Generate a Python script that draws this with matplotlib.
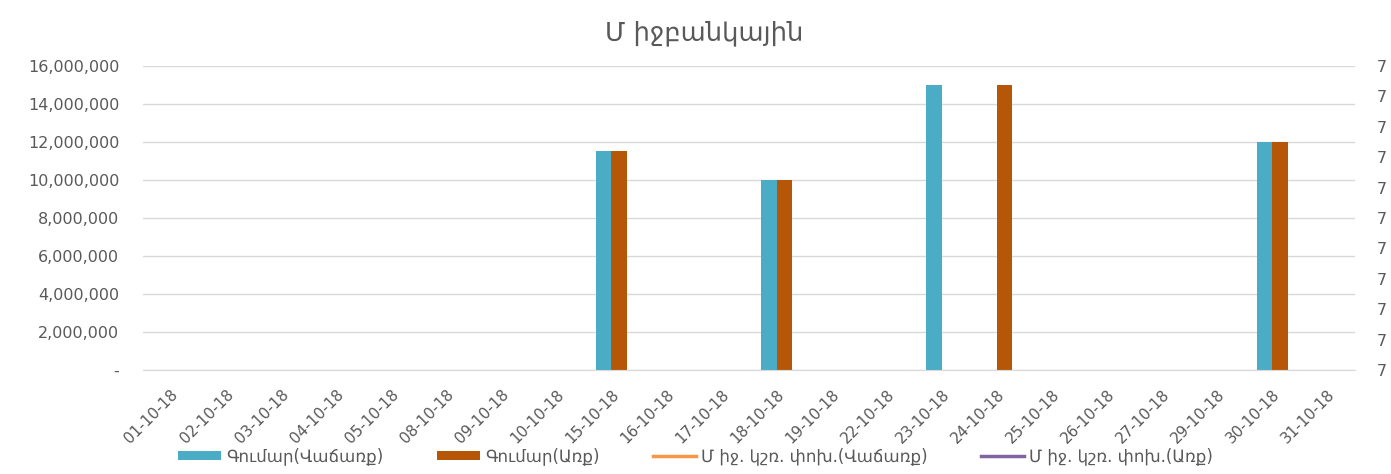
import matplotlib.pyplot as plt
import numpy as np

plt.rcParams['font.family'] = ['DejaVu Sans']

dates = ['01-10-18', '02-10-18', '03-10-18', '04-10-18', '05-10-18', '08-10-18',
         '09-10-18', '10-10-18', '15-10-18', '16-10-18', '17-10-18', '18-10-18',
         '19-10-18', '22-10-18', '23-10-18', '24-10-18', '25-10-18', '26-10-18',
         '27-10-18', '29-10-18', '30-10-18', '31-10-18']
sell_amount = [0, 0, 0, 0, 0, 0, 0, 0, 11500000, 0, 0, 10000000,
               0, 0, 15000000, 0, 0, 0, 0, 0, 12000000, 0]
buy_amount = [0, 0, 0, 0, 0, 0, 0, 0, 11500000, 0, 0, 10000000,
              0, 0, 0, 15000000, 0, 0, 0, 0, 12000000, 0]
# weighted avg rate series: no visible values in the chart
sell_rate = [np.nan] * len(dates)
buy_rate = [np.nan] * len(dates)
right_labels = ['7'] * 11

grey = '#595959'
fig = plt.figure(figsize=(13.91, 4.74), dpi=100)
ax = fig.add_axes([0.1028, 0.2194, 0.8713, 0.6414])

x = np.arange(len(dates))
w = 0.28
b1 = ax.bar(x - w / 2, sell_amount, w, color='#4BACC6', label='Գումար(Վաճառք)')
b2 = ax.bar(x + w / 2, buy_amount, w, color='#B65708', label='Գումար(Առք)')

ax.set_xlim(-0.5, len(dates) - 0.5)
ax.set_ylim(0, 16000000)
ax.set_yticks(np.arange(0, 16000001, 2000000))
ax.set_yticklabels(['-'] + ['{:,}'.format(v) for v in range(2000000, 16000001, 2000000)])
ax.set_xticks(x)
ax.set_xticklabels(dates, rotation=45, ha='right', rotation_mode='anchor')
ax.tick_params(axis='both', length=0, colors=grey, labelsize=11.5)
ax.tick_params(axis='y', pad=17)
ax.tick_params(axis='x', labelsize=11, pad=12)
ax.grid(axis='y', color='#D9D9D9', linewidth=1)
ax.set_axisbelow(True)
for s in ['top', 'right', 'left']:
    ax.spines[s].set_visible(False)
ax.spines['bottom'].set_color('#D9D9D9')

ax2 = ax.twinx()
l1, = ax2.plot(x, sell_rate, color='#F79646', linewidth=2.5, label='Մ իջ. կշռ. փոխ.(Վաճառք)')
l2, = ax2.plot(x, buy_rate, color='#8064A2', linewidth=2.5, label='Մ իջ. կշռ. փոխ.(Առք)')
ax2.set_ylim(0, 10)
ax2.set_yticks(np.arange(0, 11, 1))
ax2.set_yticklabels(right_labels)
ax2.tick_params(axis='y', length=0, colors=grey, labelsize=11.5, pad=16)
for s in ax2.spines.values():
    s.set_visible(False)

fig.text(0.506, 0.93, 'Մ իջբանկային', fontsize=18.5, color=grey, ha='center', va='center')

fig.legend(handles=[b1, b2, l1, l2], loc='center', bbox_to_anchor=(0.5, 0.037),
           ncol=4, frameon=False, fontsize=12, labelcolor=grey,
           handlelength=2.6, handleheight=0.5, columnspacing=3.2, handletextpad=0.3,
           borderpad=0)

fig.savefig('out.png', dpi=100)
